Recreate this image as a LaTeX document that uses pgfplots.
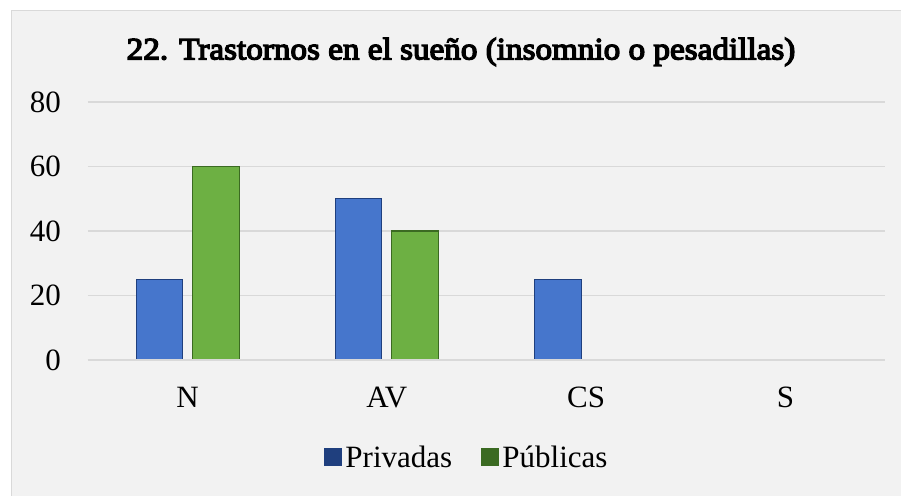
\documentclass[border=0pt]{standalone}
\usepackage{fontspec}
\setmainfont{Liberation Serif}
\newfontfamily\titlefont{Liberation Serif}[FakeBold=4.5, FakeStretch=1.07]
\usepackage{pgfplots}
\pgfplotsset{compat=1.18}
\definecolor{panel}{HTML}{F2F2F2}
\definecolor{panelborder}{HTML}{D9D9D9}
\definecolor{gridc}{HTML}{D9D9D9}
\definecolor{bluem}{HTML}{4676CC}
\definecolor{blued}{HTML}{1F3F7E}
\definecolor{greenm}{HTML}{6DB043}
\definecolor{greend}{HTML}{3B6A22}
\begin{document}
\begin{tikzpicture}
\useasboundingbox (-88bp,-136bp) rectangle (813bp,360bp);
\fill[panel] (-76.5bp,-145bp) rectangle (820bp,349.5bp);
\draw[panelborder, line width=1.5bp] (-76.5bp,-145bp) -- (-76.5bp,349.5bp) -- (820bp,349.5bp);
\begin{axis}[
  scale only axis,
  width=797bp, height=258bp,
  xmin=-0.5, xmax=3.5,
  ymin=0, ymax=80,
  ytick={0,20,40,60,80},
  xtick={0,1,2,3},
  xticklabels={N,AV,CS,S},
  ymajorgrids,
  grid style={gridc, line width=1.3bp},
  axis line style={draw=none},
  major tick length=0pt,
  /pgf/number format/assume math mode=true,
  font=\fontsize{31bp}{37bp}\selectfont,
  yticklabel style={anchor=east, inner sep=0pt, xshift=-27bp},
  xticklabel style={anchor=north, inner sep=0pt, yshift=-27bp},
  ybar=10bp,
  bar width=46.5bp,
  title={22. Trastornos en el sueño (insomnio o pesadillas)},
  title style={at={(0.468,1.171)}, anchor=center, inner sep=0pt, font=\fontsize{31bp}{37bp}\titlefont},
  legend columns=-1,
  legend style={draw=none, fill=none, at={(0.476,-0.376)}, anchor=center,
    font=\fontsize{31bp}{37bp}\selectfont,
    /tikz/every even column/.append style={column sep=26bp},
    nodes={inner sep=3bp}},
  restrict y to domain=0.01:100,
]
\addplot[draw=blued, line width=1.2bp, fill=bluem,
  legend image code/.code={\fill[bluem] (0bp,-8.5bp) rectangle (17bp,8.5bp); \draw[blued, line width=1bp] (0bp,-8.5bp) rectangle (17bp,8.5bp);}]
  coordinates {(0,25) (1,50) (2,25) (3,0)};
\addlegendentry{Privadas}
\addplot[draw=greend, line width=1.2bp, fill=greenm,
  legend image code/.code={\fill[greenm] (0bp,-8.5bp) rectangle (17bp,8.5bp); \draw[greend, line width=1bp] (0bp,-8.5bp) rectangle (17bp,8.5bp);}]
  coordinates {(0,60) (1,40) (2,0) (3,0)};
\addlegendentry{Públicas}
\draw[gridc, line width=1.3bp] (axis cs:-0.5,0) -- (axis cs:3.5,0);
\end{axis}
\end{tikzpicture}
\end{document}
